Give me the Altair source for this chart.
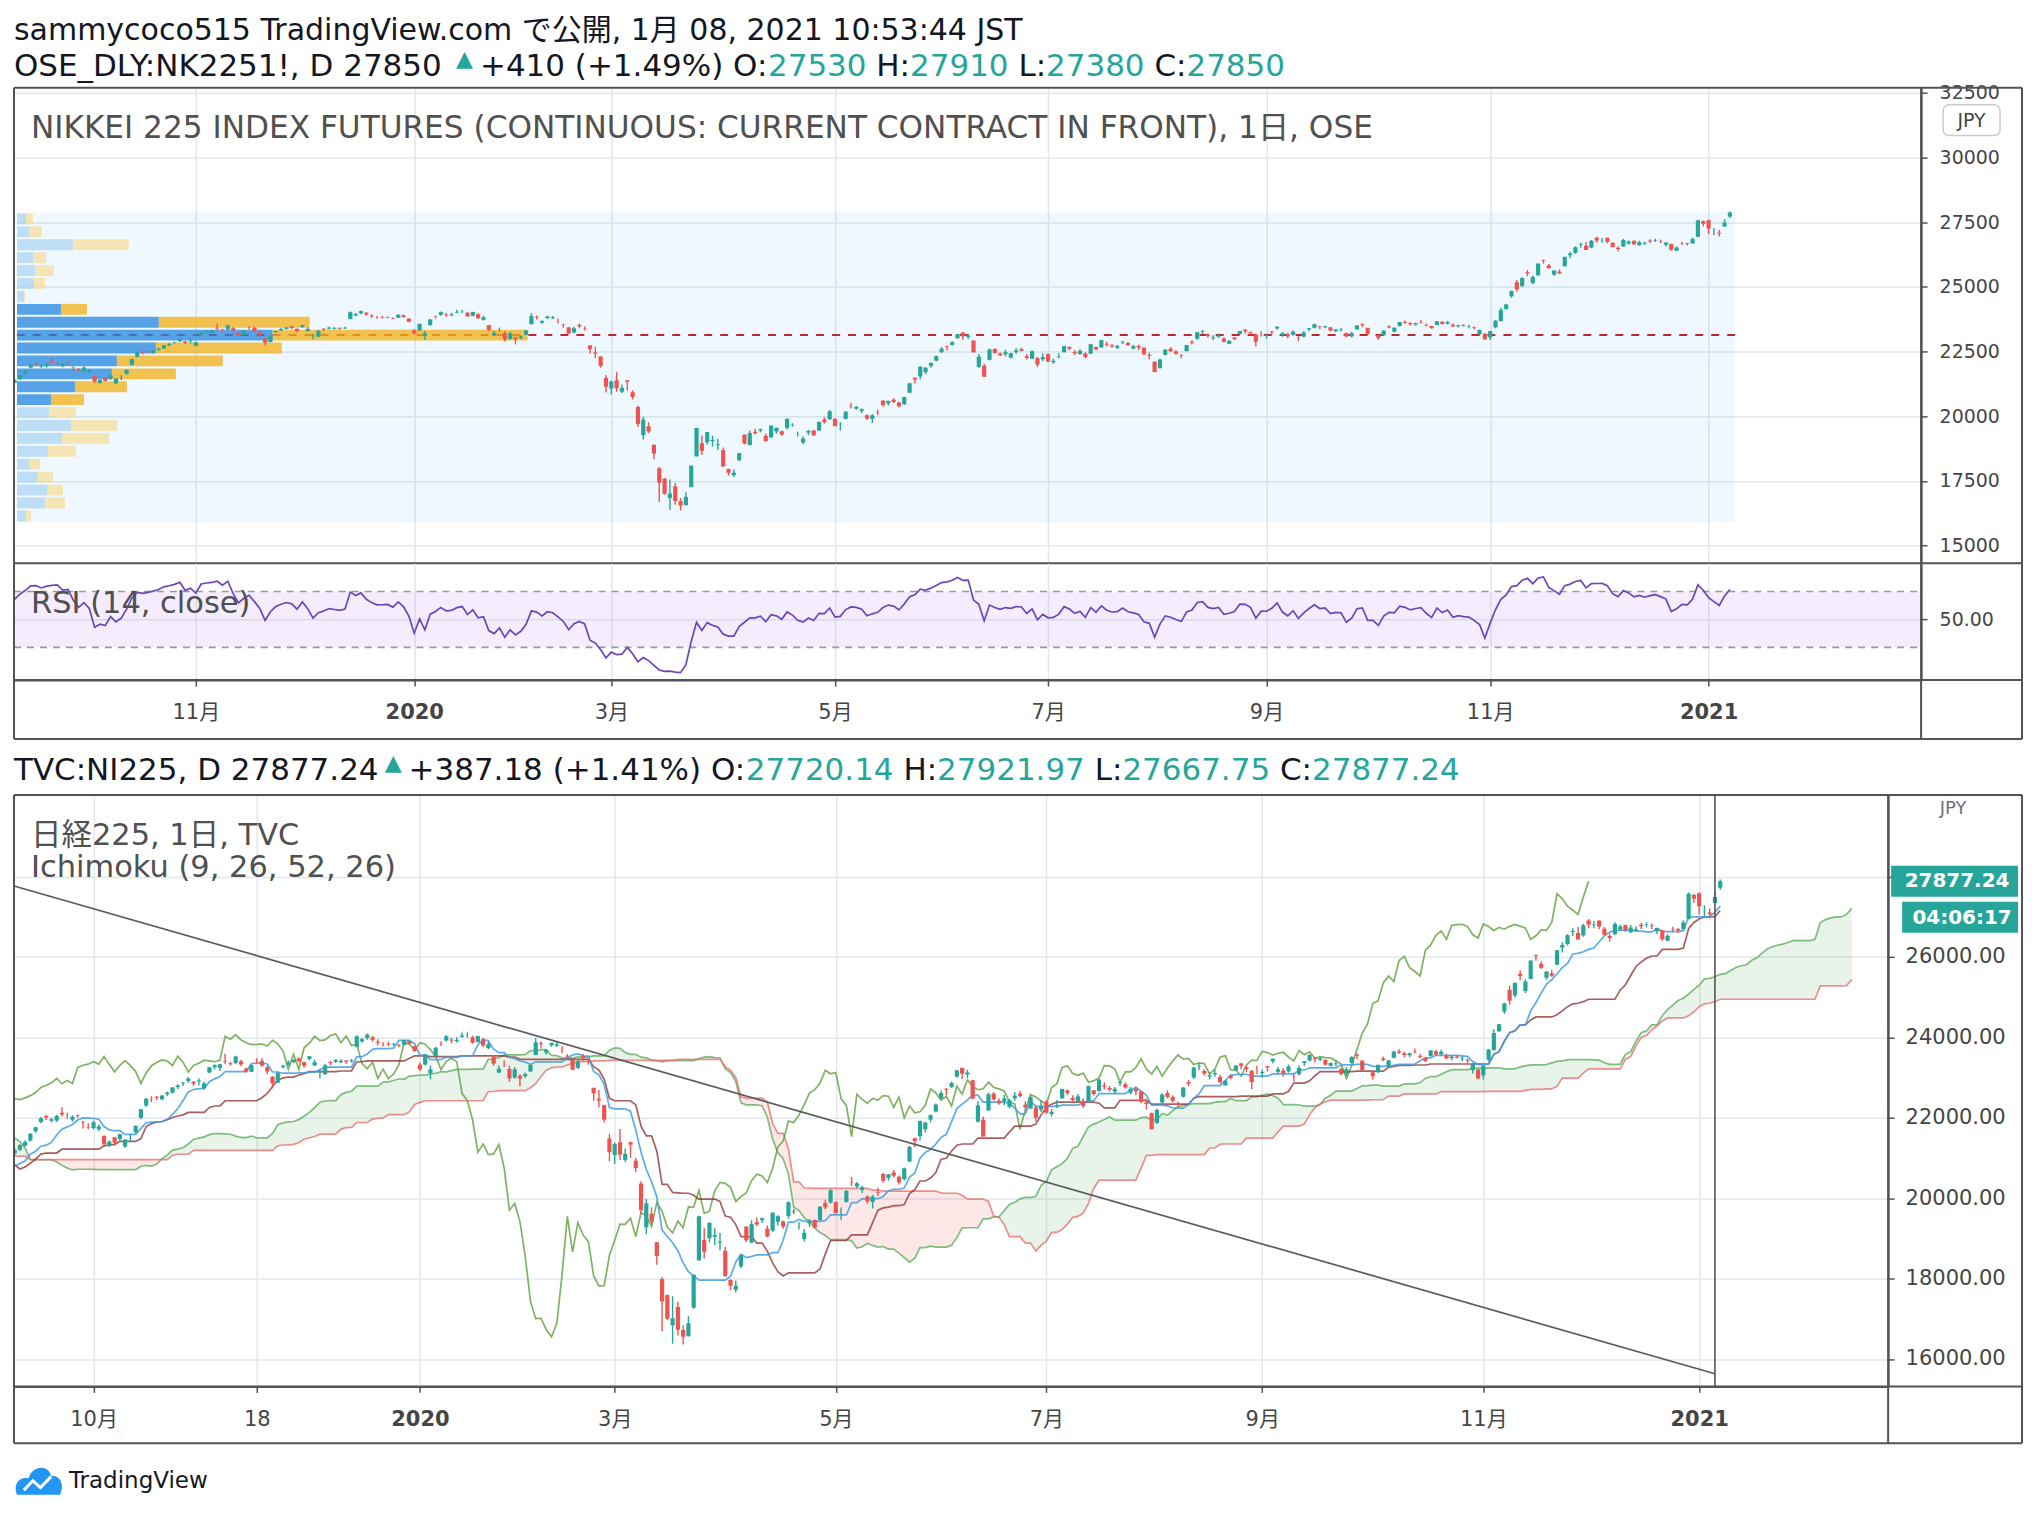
import altair as alt
import numpy as np
import pandas as pd

# ================= texts =================
PUBLISHED = "sammycoco515 TradingView.com で公開, 1月 08, 2021 10:53:44 JST"
TOP_SYMBOL = "OSE_DLY:NK2251!, D 27850"
TOP_CHANGE = "+410 (+1.49%) O:"
TOP_OHLC = ["27530", "27910", "27380", "27850"]
BOT_SYMBOL = "TVC:NI225, D 27877.24"
BOT_CHANGE = "+387.18 (+1.41%) O:"
BOT_OHLC = ["27720.14", "27921.97", "27667.75", "27877.24"]
TOP_TITLE = "NIKKEI 225 INDEX FUTURES (CONTINUOUS: CURRENT CONTRACT IN FRONT), 1日, OSE"
RSI_TITLE = "RSI (14, close)"
BOT_TITLE = "日経225, 1日, TVC"
ICHI_TITLE = "Ichimoku (9, 26, 52, 26)"
LAST_PRICE = 27877.24
LAST_PRICE_TEXT = "27877.24"
TIMER_TEXT = "04:06:17"

# ================= daily bars (bar index 0 = 2019-09-11) =================
FIRST_INDEX = -80   # 2019-05-20
PRE_OPEN = [
    21350, 21200, 21330, 21250, 21100, 21150, 21200, 21100, 20950, 20870,
    20580, 20330, 20580, 20770, 20800, 21010, 21150, 21180, 20990, 21000, 21100, 21040, 21200, 21470, 21320, 21250, 21280, 21120, 21080, 21300,
    21720, 21760, 21700, 21650, 21700, 21640, 21540, 21510, 21470, 21660, 21620, 21460, 21370, 21180, 21410, 21400, 21640, 21700, 21710, 21600, 21650, 21740,
    21400, 21180, 20950, 20240, 20520, 20490, 20700, 20450, 20480, 20500, 20190, 20500, 20580, 20660, 20600, 20680, 20360, 20450, 20390, 20550, 20620,
    20650, 20630, 20570, 20720, 21100, 21200, 21300,
]
PRE_HIGH = [
    21430, 21400, 21380, 21290, 21200, 21260, 21300, 21130, 21040, 20900,
    20600, 20520, 20800, 20870, 20900, 21180, 21260, 21200, 21100, 21150, 21170, 21060, 21340, 21500, 21350, 21320, 21290, 21150, 21360, 21340,
    21780, 21790, 21750, 21720, 21770, 21660, 21590, 21600, 21650, 21700, 21680, 21600, 21370, 21470, 21470, 21640, 21740, 21800, 21720, 21680, 21720, 21790,
    21560, 21250, 20970, 20780, 20690, 20640, 20780, 20590, 20660, 20510, 20440, 20590, 20690, 20700, 20690, 20760, 20370, 20520, 20500, 20570, 20730,
    20710, 20680, 20660, 21100, 21240, 21340, 21440,
]
PRE_LOW = [
    21170, 21160, 21180, 21080, 21030, 21090, 21150, 20960, 20860, 20560,
    20290, 20290, 20540, 20700, 20740, 20990, 21100, 21090, 20960, 20980, 21040, 20940, 21180, 21300, 21200, 21200, 21150, 21040, 21050, 21240,
    21560, 21630, 21600, 21640, 21660, 21510, 21520, 21490, 21460, 21620, 21520, 21420, 21040, 21140, 21370, 21390, 21610, 21680, 21560, 21570, 21600, 21480,
    21350, 21010, 20680, 20110, 20400, 20430, 20590, 20400, 20460, 20180, 20180, 20480, 20540, 20560, 20550, 20610, 20170, 20340, 20380, 20400, 20600,
    20580, 20590, 20560, 20700, 21070, 21170, 21280,
]
PRE_CLOSE = [
    21301, 21272, 21283, 21151, 21117, 21182, 21260, 21003, 20942, 20601,
    20410, 20408, 20776, 20774, 20884, 21134, 21204, 21129, 21032, 21116, 21124, 20972, 21333, 21462, 21258, 21285, 21193, 21086, 21338, 21275,
    21729, 21754, 21638, 21702, 21746, 21534, 21565, 21533, 21643, 21685, 21535, 21469, 21046, 21466, 21416, 21620, 21709, 21756, 21658, 21616, 21709, 21521,
    21540, 21087, 20720, 20585, 20516, 20593, 20684, 20455, 20655, 20405, 20418, 20563, 20677, 20618, 20628, 20710, 20261, 20456, 20479, 20460, 20704,
    20620, 20625, 20649, 21085, 21199, 21318, 21392,
]

OPEN = [
    21430, 21660, 21890, 22040, 21920, 21930, 22120, 22100, 21950, 22060, 21890, 21770,
    21740, 21710, 21550, 21300, 21510, 21470, 21280, 21550, 21640, 21990, 22300, 22460, 22520, 22460, 22580, 22620, 22760, 22850, 22910, 22890, 22900,
    22730, 23120, 23260, 23240, 23410, 23350, 23360, 23400, 23220, 23140, 23420, 23410, 23250, 23020, 22870, 23260, 23320, 23380, 23470, 23380,
    23460, 23300, 23120, 23080, 23380, 23390, 23380, 23420, 23400, 23760, 23900, 23980, 24000, 23890, 23820, 23840, 23810, 23800, 23810, 23900, 23780,
    23320, 23320, 23110, 23530, 23860, 23920, 23940, 23900, 24010, 24080, 24000, 23880, 23950, 23730, 23520, 23120, 23380, 23210, 23000,
    23040, 23030, 23150, 23560, 23850, 23620, 23800, 23790, 23690, 23540, 23440, 23240, 23530, 23400, 22740, 22470, 22310, 21480,
    21070, 21390, 20950, 21390, 20930, 20360, 19270, 19610, 18900, 17990, 17590, 16840, 17290, 16720, 16570, 17270, 18450, 18960, 19000, 19040, 18890,
    18690, 17960, 17720, 18300, 19290, 18890, 19400, 19450, 19240, 19190, 19410, 19420, 19550, 19650, 19280, 18980, 19370, 19450, 19450, 19880, 19890,
    19900, 19670, 19900, 20400, 20290, 20200, 20040, 19900, 20150, 20600, 20500, 20640, 20530, 20470, 20910, 21490, 21540, 21710,
    21950, 22150, 22480, 22720, 22760, 23020, 23240, 23070, 22930, 21900, 21950, 22180, 22600, 22420, 22400, 22270, 22480, 22600, 22320, 22230, 22250, 22200,
    22400, 22090, 22280, 22480, 22680, 22490, 22400, 22420, 22420, 22680, 22660, 22800, 22740, 22650, 22860, 22830, 22620, 22720, 22650, 22380, 22110,
    21870, 22380, 22610, 22510, 22350, 22520, 22880, 23000, 23270, 23160, 23020, 23080, 23010, 22800, 23040, 23180, 23350, 23250, 23160, 23140,
    23110, 23280, 23400, 23140, 23170, 23150, 23040, 23080, 23360, 23420, 23480, 23440, 23440, 23290, 23330, 23210, 23090, 23360, 23570, 23420,
    23185, 23130, 23130, 23470, 23270, 23490, 23650, 23600, 23550, 23640, 23530, 23490, 23530, 23650, 23580, 23540, 23480, 23520, 23470, 23440, 23180, 23200,
    23050, 23440, 23680, 24150, 24640, 25180, 25040, 25570, 25150, 25450, 26040, 25830, 25480, 25590, 25800, 26230, 26320, 26620, 26590,
    26530, 26900, 26800, 26900, 26700, 26520, 26560, 26680, 26790, 26610, 26650, 26800, 26790, 26780, 26630, 26660, 26400, 26680, 26690, 26690, 26940, 27540,
    27580, 27150, 27100, 27340, 27720.14,
]
HIGH = [
    21620, 21770, 22020, 22070, 22000, 22070, 22260, 22120, 22060, 22080, 21920, 21860,
    21920, 21830, 21550, 21430, 21520, 21600, 21460, 21590, 21800, 22220, 22490, 22530, 22540, 22560, 22650, 22760, 22830, 22890, 23010, 22910, 22980,
    22890, 23260, 23330, 23340, 23590, 23390, 23540, 23440, 23250, 23320, 23480, 23480, 23290, 23030, 23140, 23310, 23420, 23450, 23500, 23390,
    23530, 23440, 23190, 23340, 23410, 23460, 23460, 23430, 23460, 24050, 23990, 24090, 24030, 23950, 23880, 23890, 23860, 23830, 23940, 23930, 23780,
    23370, 23580, 23300, 23760, 23900, 24050, 23990, 24000, 24120, 24120, 24040, 24040, 23980, 23880, 23530, 23300, 23430, 23290, 23260,
    23080, 23120, 23330, 23990, 23900, 23710, 23870, 23880, 23780, 23580, 23450, 23460, 23590, 23470, 22750, 22690, 22320, 21600,
    21380, 21720, 21230, 21400, 21000, 20420, 19980, 19770, 18910, 18040, 17600, 17560, 17420, 16840, 17060, 18100, 19560, 19260, 19390, 19250, 19130,
    18790, 17980, 17950, 18580, 19300, 19450, 19520, 19520, 19320, 19640, 19570, 19440, 19920, 19730, 19400, 19230, 19480, 19470, 19800, 19960, 20240,
    19920, 19770, 20200, 20520, 20400, 20310, 20070, 20080, 20260, 20630, 20600, 20700, 20560, 20760, 21300, 21500, 21930, 21900,
    22080, 22350, 22680, 22730, 22900, 23180, 23240, 23190, 22940, 22410, 22030, 22620, 22630, 22480, 22570, 22460, 22640, 22660, 22410, 22550, 22300, 22440,
    22430, 22220, 22440, 22720, 22700, 22560, 22590, 22480, 22800, 22690, 22960, 22880, 22790, 22760, 22910, 22880, 22760, 22770, 22670, 22470, 22130,
    22220, 22600, 22680, 22550, 22400, 22760, 22940, 23260, 23340, 23200, 23130, 23200, 23060, 22940, 23060, 23300, 23360, 23290, 23190, 23290,
    23200, 23290, 23470, 23260, 23230, 23320, 23100, 23300, 23410, 23580, 23500, 23500, 23450, 23370, 23420, 23240, 23260, 23530, 23600, 23420,
    23185, 23160, 23320, 23520, 23440, 23650, 23700, 23640, 23620, 23720, 23590, 23500, 23680, 23680, 23690, 23590, 23540, 23560, 23540, 23470, 23360, 23200,
    23300, 23710, 24200, 24330, 24860, 25280, 25370, 25660, 25440, 25910, 26060, 25890, 25640, 25680, 26170, 26360, 26570, 26710, 26740,
    26820, 26940, 26890, 26900, 26740, 26570, 26860, 26800, 26800, 26790, 26760, 26840, 26860, 26830, 26720, 26670, 26560, 26750, 26710, 26910, 27600, 27570,
    27600, 27280, 27200, 27620, 27921.97,
]
LOW = [
    21400, 21620, 21860, 21940, 21880, 21890, 22030, 21970, 21900, 21990, 21730, 21720,
    21700, 21660, 21300, 21270, 21340, 21410, 21250, 21400, 21610, 21960, 22270, 22390, 22440, 22430, 22530, 22600, 22710, 22790, 22870, 22790, 22800,
    22700, 23100, 23200, 23160, 23330, 23300, 23330, 23280, 23120, 23130, 23350, 23270, 23080, 22730, 22860, 23220, 23300, 23360, 23370, 23240,
    23420, 23280, 22980, 23070, 23310, 23360, 23360, 23340, 23370, 23750, 23860, 23940, 23890, 23800, 23770, 23780, 23790, 23750, 23800, 23820, 23640,
    23160, 23300, 22950, 23500, 23780, 23890, 23850, 23870, 23990, 23990, 23840, 23870, 23760, 23700, 23290, 23110, 23260, 22890, 22970,
    22780, 22980, 23130, 23550, 23740, 23570, 23760, 23760, 23600, 23430, 23180, 23210, 23400, 23320, 22420, 22250, 21880, 20920,
    20850, 20950, 20900, 21000, 20650, 19590, 19100, 19350, 18340, 16690, 16970, 16380, 16580, 16360, 16550, 17250, 18450, 18500, 18900, 18830, 18700,
    18040, 17710, 17650, 18260, 18910, 18880, 19300, 19380, 19020, 19160, 19320, 19240, 19490, 19600, 19220, 18920, 19280, 19250, 19440, 19720, 19860,
    19620, 19450, 19890, 20300, 20250, 20120, 19860, 19740, 20050, 20380, 20430, 20510, 20340, 20440, 20900, 21270, 21430, 21630,
    21880, 22130, 22450, 22550, 22740, 23000, 22960, 22990, 22470, 21880, 21530, 22170, 22420, 22320, 22310, 22230, 22420, 22510, 22200, 22210, 21900, 22140,
    22100, 22030, 22240, 22470, 22560, 22370, 22390, 22240, 22410, 22550, 22650, 22700, 22650, 22600, 22790, 22720, 22580, 22560, 22360, 22200, 21710,
    21840, 22350, 22480, 22380, 22250, 22500, 22780, 22960, 23180, 23050, 22950, 23020, 22850, 22800, 22950, 23160, 23200, 23130, 22710, 23080,
    23000, 23150, 23350, 23080, 23020, 23120, 22900, 23050, 23290, 23400, 23370, 23400, 23290, 23270, 23280, 23050, 23050, 23350, 23450, 23140,
    23185, 22950, 23110, 23400, 23250, 23470, 23580, 23500, 23500, 23600, 23480, 23380, 23520, 23550, 23550, 23460, 23430, 23470, 23400, 23360, 23100, 22950,
    22950, 23400, 23670, 24130, 24580, 24810, 24990, 25420, 25100, 25440, 25900, 25700, 25430, 25500, 25800, 26110, 26280, 26520, 26430,
    26500, 26710, 26710, 26690, 26540, 26380, 26550, 26640, 26620, 26590, 26640, 26690, 26740, 26690, 26560, 26400, 26390, 26620, 26600, 26660, 26930, 27340,
    27050, 27000, 26950, 27340, 27667.75,
]
CLOSE = [
    21597, 21759, 21988, 22001, 21960, 22044, 22079, 22098, 22020, 22048, 21878, 21756,
    21885, 21778, 21341, 21410, 21375, 21587, 21456, 21551, 21798, 22207, 22472, 22451, 22492, 22548, 22625, 22750, 22799, 22867, 22974, 22843, 22927,
    22850, 23251, 23303, 23330, 23391, 23331, 23520, 23319, 23141, 23303, 23416, 23292, 23148, 22852, 23112, 23292, 23373, 23437, 23409, 23293,
    23529, 23379, 23135, 23300, 23354, 23430, 23410, 23391, 23424, 24023, 23952, 24066, 23934, 23864, 23816, 23821, 23830, 23782, 23924, 23837, 23656,
    23204, 23575, 23204, 23739, 23850, 24025, 23916, 23933, 24041, 24083, 23864, 24031, 23795, 23827, 23343, 23215, 23379, 22977, 23205,
    22971, 23084, 23319, 23873, 23827, 23685, 23861, 23827, 23687, 23523, 23193, 23400, 23479, 23386, 22605, 22426, 21948, 21142,
    21344, 21082, 21100, 21329, 20749, 19698, 19867, 19416, 18559, 17431, 17002, 17011, 16726, 16552, 16887, 18092, 19546, 18664, 19389, 19084, 18917,
    18065, 17819, 17820, 18576, 18950, 19353, 19345, 19498, 19043, 19639, 19550, 19291, 19897, 19669, 19281, 19138, 19429, 19262, 19783, 19771, 20194,
    19619, 19674, 20179, 20390, 20366, 20267, 19915, 20037, 20133, 20433, 20595, 20552, 20388, 20741, 21271, 21419, 21916, 21877,
    22062, 22325, 22613, 22695, 22863, 23178, 23091, 23124, 22473, 22305, 21530, 22582, 22455, 22355, 22478, 22437, 22549, 22534, 22259, 22512, 21995, 22288,
    22122, 22145, 22306, 22714, 22614, 22438, 22529, 22290, 22784, 22587, 22945, 22770, 22696, 22717, 22884, 22751, 22715, 22657, 22397, 22339, 21710,
    22195, 22573, 22514, 22418, 22329, 22750, 22843, 23249, 23289, 23096, 23051, 23110, 22880, 22920, 22985, 23296, 23290, 23208, 22882, 23139,
    23138, 23247, 23465, 23205, 23089, 23274, 23032, 23235, 23406, 23559, 23454, 23475, 23319, 23360, 23346, 23087, 23204, 23511, 23539, 23185,
    23185, 23029, 23312, 23433, 23422, 23647, 23619, 23558, 23601, 23626, 23507, 23410, 23671, 23567, 23639, 23474, 23516, 23494, 23485, 23418, 23331, 22977,
    23295, 23695, 24105, 24325, 24839, 24905, 25349, 25520, 25385, 25906, 26014, 25728, 25634, 25527, 26165, 26296, 26537, 26644, 26433,
    26787, 26800, 26809, 26751, 26547, 26467, 26817, 26756, 26652, 26732, 26687, 26757, 26806, 26763, 26714, 26436, 26524, 26668, 26656, 26854, 27568, 27444,
    27258, 27158, 27056, 27490, 27877.24,
]

# x-axis ticks (bar index of first session of the month)
TOP_TICK_IDX = [33, 74, 111, 153, 193, 234, 276, 317]
TOP_TICK_LABELS = ["11月", "2020", "3月", "5月", "7月", "9月", "11月", "2021"]
BOT_TICK_IDX = [12, 43, 74, 111, 153, 193, 234, 276, 317]
BOT_TICK_LABELS = ["10月", "18", "2020", "3月", "5月", "7月", "9月", "11月", "2021"]
TOP_PRICE_TICKS = [15000, 17500, 20000, 22500, 25000, 27500, 30000, 32500]
BOT_PRICE_TICKS = [16000, 18000, 20000, 22000, 24000, 26000, 28000]
BOT_HIDDEN_LABEL = 28000          # covered by the last-price tag
RSI_TICKS = [50]
RSI_UPPER, RSI_LOWER = 70, 30

# visible-range volume profile (24 rows, top -> bottom), thousand contracts
VP_LOW, VP_HIGH = 15900, 27880
VP_START_IDX, VP_END_IDX = -0.6, 322
VP_UP = [0.9, 1.2, 5.6, 1.6, 1.8, 1.7, 0.7, 4.4, 14.2, 25.6, 13.9, 10.0, 9.5, 5.8, 3.4, 3.2, 5.4, 4.5, 3.1, 1.2, 2.1, 3.0, 2.8, 0.9]
VP_DOWN = [0.7, 1.3, 5.6, 1.3, 1.9, 1.1, 0.1, 2.6, 15.1, 25.5, 12.6, 10.6, 6.4, 5.2, 3.3, 2.7, 4.6, 4.7, 2.8, 1.1, 1.5, 1.6, 2.0, 0.5]
VP_VALUE_AREA = [0, 0, 0, 0, 0, 0, 0, 1, 1, 1, 1, 1, 1, 1, 1, 0, 0, 0, 0, 0, 0, 0, 0, 0]
POC_PRICE = 23140

# drawn trend line and cursor (bottom chart)
TREND_IDX = [-3.1, 320]
TREND_PRICE = [27760, 15630]
CURSOR_IDX = 320

ICHI_CONV, ICHI_BASE, ICHI_SPANB, ICHI_DISP = 9, 26, 52, 26

assert len(PRE_OPEN) == len(PRE_HIGH) == len(PRE_LOW) == len(PRE_CLOSE) == -FIRST_INDEX
assert len(OPEN) == len(HIGH) == len(LOW) == len(CLOSE) == 322

# ================= styling =================
FONT = "DejaVu Sans, Noto Sans CJK JP, sans-serif"
INK = "#131722"
TEAL = "#26a69a"
UP = "#26a69a"
DOWN = "#ef5350"
FRAME = "#505357"
GRID = "#e2e8ee"
LABEL = "#454545"
PANE_TXT = "#505050"
HEAD_FS = 31
PANE_FS = 30.5
TITLE_FS = 31.2

FULL_W = 2010
HEAD_H = 79
PRICE_W, PRICE_H = 1909, 476
RSI_H = 117
TOP_AXIS_H = 59
MID_H = 115
BOT_W, BOT_H = 1876, 592
BOT_AXIS_H = 57
LOGO_H = 123

XTOP = alt.Scale(domain=[-1.14, 356.9], nice=False, zero=False)
YPRICE = alt.Scale(domain=[14320, 32705], nice=False, zero=False)
YRSI = alt.Scale(domain=[6.6, 90.2], nice=False, zero=False)
XBOT = alt.Scale(domain=[-3.11, 352.9], nice=False, zero=False)
YBOT = alt.Scale(domain=[15317, 30025], nice=False, zero=False)
VP_X = alt.Scale(domain=[-0.3, 190.6], nice=False, zero=False)

# DejaVu Sans advance widths (em) for laying out the coloured header pieces
DV = {"0": .636, "1": .636, "2": .636, "3": .636, "4": .636, "5": .636, "6": .636, "7": .636,
      "8": .636, "9": .636, ".": .318, ":": .337, ",": .318, " ": .318, "+": .838, "(": .390,
      ")": .390, "%": .950, "H": .752, "L": .557, "C": .698, "O": .787, "D": .770, "T": .611,
      "V": .684, "N": .748, "I": .295, "S": .635, "E": .632, "_": .500, "Y": .611, "K": .656,
      "!": .400}


def tw(s, size):
    return sum(DV.get(ch, 0.62) for ch in s) * size


# ================= derived tables =================
bars = pd.DataFrame({
    "i": np.arange(FIRST_INDEX, FIRST_INDEX + len(PRE_CLOSE) + len(CLOSE)),
    "o": PRE_OPEN + OPEN, "h": PRE_HIGH + HIGH, "l": PRE_LOW + LOW, "c": PRE_CLOSE + CLOSE,
})


def rsi_values(close, n=14):
    close = np.asarray(close, dtype=float)
    ch = np.diff(close, prepend=np.nan)
    up = np.where(ch > 0, ch, 0.0)
    dn = np.where(ch < 0, -ch, 0.0)
    out = np.full(len(close), np.nan)
    au, ad = up[1:n + 1].mean(), dn[1:n + 1].mean()
    out[n] = 100.0 if ad == 0 else 100 - 100 / (1 + au / ad)
    for k in range(n + 1, len(close)):
        au = (au * (n - 1) + up[k]) / n
        ad = (ad * (n - 1) + dn[k]) / n
        out[k] = 100.0 if ad == 0 else 100 - 100 / (1 + au / ad)
    return out


bars["rsi"] = rsi_values(bars["c"])

top_bars = bars[bars.i >= -2]
bot_bars = bars[bars.i >= -4]
rsi_df = bars[(bars.i >= -2)][["i", "rsi"]]


def midpoint(p):
    return (bars["h"].rolling(p).max() + bars["l"].rolling(p).min()) / 2


conv = midpoint(ICHI_CONV)
base = midpoint(ICHI_BASE)
lead_b = midpoint(ICHI_SPANB)
lead_a = (conv + base) / 2
shift = ICHI_DISP - 1


def clip_rng(df):
    return df[(df.p >= -6) & (df.p <= 352)].dropna()


conv_df = clip_rng(pd.DataFrame({"p": bars.i, "v": conv}))
base_df = clip_rng(pd.DataFrame({"p": bars.i, "v": base}))
lag_df = clip_rng(pd.DataFrame({"p": bars.i - shift, "v": bars.c}))
cloud = clip_rng(pd.DataFrame({"p": bars.i + shift, "a": lead_a, "b": lead_b}))
cloud["top"] = cloud[["a", "b"]].max(axis=1)

# volume profile rows
step = (VP_HIGH - VP_LOW) / len(VP_UP)
ROW_GAP = 40
vp_rec = []
for k, (u, d, va) in enumerate(zip(VP_UP, VP_DOWN, VP_VALUE_AREA)):
    hi = VP_HIGH - k * step - ROW_GAP
    lo = VP_HIGH - (k + 1) * step + ROW_GAP
    vp_rec.append({"lo": lo, "hi": hi, "a": 0.0, "b": u, "col": "#2187de" if va else "#aed6f2"})
    vp_rec.append({"lo": lo, "hi": hi, "a": u, "b": u + d, "col": "#f1b015" if va else "#f7de9b"})
vp_df = pd.DataFrame(vp_rec)

ONE = pd.DataFrame({"k": [0]})


# ================= helpers =================
def hrule(x1, x2, y, color=FRAME, w=2):
    return alt.Chart(ONE).mark_rule(color=color, strokeWidth=w).encode(
        x=alt.value(x1), x2=alt.value(x2), y=alt.value(y))


def vrule(x, y1, y2, color=FRAME, w=2):
    return alt.Chart(ONE).mark_rule(color=color, strokeWidth=w).encode(
        x=alt.value(x), y=alt.value(y1), y2=alt.value(y2))


def label(text, x, y, size, color, align="left", baseline="alphabetic", weight="normal"):
    return alt.Chart(ONE).mark_text(text=text, align=align, baseline=baseline, font=FONT,
                                    fontSize=size, color=color, fontWeight=weight).encode(
        x=alt.value(x), y=alt.value(y))


def label_expr(vals, labs):
    expr = "''"
    for v, lab in reversed(list(zip(vals, labs))):
        expr = f"datum.value == {v} ? '{lab}' : {expr}"
    return expr


def bold_test(vals, labs):
    return " || ".join(f"datum.value == {v}" for v, lab in zip(vals, labs) if lab.isdigit() and len(lab) == 4)


def candle_layers(df, xs, ys, xaxis, yaxis, width):
    color = alt.condition("datum.c >= datum.o", alt.value(UP), alt.value(DOWN))
    b = alt.Chart(df)
    wick = b.mark_rule(strokeWidth=1.4, clip=True).encode(
        x=alt.X("i:Q", scale=xs, axis=xaxis), y=alt.Y("l:Q", scale=ys, axis=yaxis), y2="h:Q", color=color)
    body = b.mark_rule(strokeWidth=width, clip=True).encode(
        x=alt.X("i:Q", scale=xs, axis=xaxis), y=alt.Y("o:Q", scale=ys, axis=yaxis), y2="c:Q", color=color)
    return [wick, body]


def header_rows(symbol, change, ohlc, y, y_tri):
    """Lay the coloured pieces of a symbol line one after another."""
    rows = []
    x = 0.0
    rows.append((symbol, x, y, INK, HEAD_FS))
    x += tw(symbol, HEAD_FS) + 6
    rows.append(("▲", x, y_tri, TEAL, 22))
    x += 0.77 * 22 + 7
    pieces = [(change, INK)]
    for lab, val in zip(["", "H:", "L:", "C:"], ohlc):
        if lab:
            pieces.append((" ", None))
            pieces.append((lab, INK))
        pieces.append((val, TEAL))
    for txt, col in pieces:
        if col is not None:
            rows.append((txt, x, y, col, HEAD_FS))
        x += tw(txt, HEAD_FS)
    return rows


def text_block(rows):
    df = pd.DataFrame(rows, columns=["t", "x", "y", "col", "fs"])
    return alt.Chart(df).mark_text(align="left", baseline="alphabetic", font=FONT).encode(
        x=alt.X("x:Q", scale=None, axis=None), y=alt.Y("y:Q", scale=None, axis=None),
        text="t:N", color=alt.Color("col:N", scale=None), size=alt.Size("fs:Q", scale=None))


# ================= axes =================
grid_x_top = alt.Axis(values=TOP_TICK_IDX, grid=True, gridColor=GRID, gridWidth=1.5, labels=False,
                      ticks=False, domain=False, title=None)
price_y_axis = alt.Axis(orient="right", values=TOP_PRICE_TICKS, format="d", grid=True, gridColor=GRID,
                        gridWidth=1.5, domainColor=FRAME, domainWidth=2, tickColor=FRAME, tickSize=6,
                        tickWidth=1.5, labelPadding=12, labelFont=FONT, labelFontSize=19, labelColor=LABEL,
                        labelOverlap=False, labelFlush=False, title=None)
rsi_y_axis = alt.Axis(orient="right", values=RSI_TICKS, format=".2f", grid=True, gridColor=GRID,
                      gridWidth=1.5, domainColor=FRAME, domainWidth=2, tickColor=FRAME, tickSize=6,
                      tickWidth=1.5, labelPadding=12, labelFont=FONT, labelFontSize=19, labelColor=LABEL,
                      labelOverlap=False, labelFlush=False, title=None)
rsi_x_axis = alt.Axis(values=TOP_TICK_IDX, labelExpr=label_expr(TOP_TICK_IDX, TOP_TICK_LABELS), grid=True,
                      gridColor=GRID, gridWidth=1.5, domainColor=FRAME, domainWidth=2, tickColor=FRAME,
                      tickSize=6, tickWidth=1.5, labelPadding=15, labelFont=FONT, labelFontSize=21,
                      labelColor=LABEL, labelOverlap=False, labelFlush=False,
                      labelFontWeight={"condition": {"test": bold_test(TOP_TICK_IDX, TOP_TICK_LABELS), "value": "bold"},
                                       "value": "normal"},
                      title=None)
bot_x_axis = alt.Axis(values=BOT_TICK_IDX, labelExpr=label_expr(BOT_TICK_IDX, BOT_TICK_LABELS), grid=True,
                      gridColor=GRID, gridWidth=1.5, domainColor=FRAME, domainWidth=2, tickColor=FRAME,
                      tickSize=6, tickWidth=1.5, labelPadding=16, labelFont=FONT, labelFontSize=21,
                      labelColor=LABEL, labelOverlap=False, labelFlush=False,
                      labelFontWeight={"condition": {"test": bold_test(BOT_TICK_IDX, BOT_TICK_LABELS), "value": "bold"},
                                       "value": "normal"},
                      title=None)
bot_y_axis = alt.Axis(orient="right", values=BOT_PRICE_TICKS,
                      labelExpr=f"datum.value == {BOT_HIDDEN_LABEL} ? '' : format(datum.value, '.2f')",
                      grid=True, gridColor=GRID, gridWidth=1.5, domainColor=FRAME, domainWidth=2,
                      tickColor=FRAME, tickSize=6, tickWidth=1.5, labelPadding=11, labelFont=FONT,
                      labelFontSize=21, labelColor=LABEL, labelOverlap=False, labelFlush=False, title=None)

# ================= header (top) =================
head_top = text_block(
    [(PUBLISHED, 0, 31, INK, 30)] + header_rows(TOP_SYMBOL, TOP_CHANGE, TOP_OHLC, 67, 57)
).properties(width=FULL_W, height=HEAD_H)

# ================= price pane =================
bg_df = pd.DataFrame({"x": [VP_START_IDX], "x2": [VP_END_IDX], "y": [VP_LOW], "y2": [VP_HIGH]})
bg_rect = alt.Chart(bg_df).mark_rect(color="#2196f3", opacity=0.07).encode(
    x=alt.X("x:Q", scale=XTOP, axis=grid_x_top), x2="x2:Q",
    y=alt.Y("y:Q", scale=YPRICE, axis=price_y_axis), y2="y2:Q")
poc_df = pd.DataFrame({"x": [VP_START_IDX], "x2": [VP_END_IDX], "y": [POC_PRICE]})
poc_rule = alt.Chart(poc_df).mark_rule(color="#c0262d", strokeDash=[8, 8], strokeWidth=2).encode(
    x=alt.X("x:Q", scale=XTOP, axis=grid_x_top), x2="x2:Q",
    y=alt.Y("y:Q", scale=YPRICE, axis=price_y_axis))
vp_chart = alt.Chart(vp_df).mark_rect(opacity=0.75).encode(
    x=alt.X("a:Q", scale=VP_X, axis=None), x2="b:Q",
    y=alt.Y("lo:Q", scale=YPRICE, axis=price_y_axis), y2="hi:Q",
    color=alt.Color("col:N", scale=None))

jpy_box = alt.Chart(ONE).mark_rect(fill="white", stroke="#c9cbd0", strokeWidth=1.5, cornerRadius=6).encode(
    x=alt.value(1931), x2=alt.value(1988), y=alt.value(17), y2=alt.value(48))

price_front = alt.layer(
    *candle_layers(top_bars, XTOP, YPRICE, None, price_y_axis, 4.2),
    label(TOP_TITLE, 17, 50, TITLE_FS, PANE_TXT),
    jpy_box,
    label("JPY", 1959.5, 33, 19, LABEL, align="center", baseline="middle"),
    hrule(0, FULL_W, 0), hrule(0, FULL_W, PRICE_H),
    vrule(0, 0, PRICE_H), vrule(FULL_W, 0, PRICE_H), vrule(PRICE_W, 0, PRICE_H),
)
price = alt.layer(alt.layer(bg_rect, poc_rule), vp_chart, price_front).resolve_scale(
    x="independent").properties(width=PRICE_W, height=PRICE_H)

# ================= RSI pane =================
rsi_band = alt.Chart(ONE).mark_rect(color="#9c50f0", opacity=0.1).encode(
    x=alt.value(0), x2=alt.value(PRICE_W),
    y=alt.Y(datum=RSI_UPPER, scale=YRSI, axis=rsi_y_axis), y2=alt.Y2(datum=RSI_LOWER))
rsi_hi = alt.Chart(ONE).mark_rule(color="#9a9a9a", strokeDash=[7, 6], strokeWidth=1.6).encode(
    x=alt.value(0), x2=alt.value(PRICE_W), y=alt.Y(datum=RSI_UPPER, scale=YRSI, axis=rsi_y_axis))
rsi_lo = alt.Chart(ONE).mark_rule(color="#9a9a9a", strokeDash=[7, 6], strokeWidth=1.6).encode(
    x=alt.value(0), x2=alt.value(PRICE_W), y=alt.Y(datum=RSI_LOWER, scale=YRSI, axis=rsi_y_axis))
rsi_line = alt.Chart(rsi_df).mark_line(color="#6a47b8", strokeWidth=1.7, clip=True).encode(
    x=alt.X("i:Q", scale=XTOP, axis=rsi_x_axis), y=alt.Y("rsi:Q", scale=YRSI, axis=rsi_y_axis))
rsi_pane = alt.layer(
    rsi_band, rsi_hi, rsi_lo, rsi_line,
    label(RSI_TITLE, 17, 50, PANE_FS, PANE_TXT),
    hrule(0, FULL_W, RSI_H), hrule(0, FULL_W, RSI_H + TOP_AXIS_H),
    vrule(0, 0, RSI_H + TOP_AXIS_H), vrule(FULL_W, 0, RSI_H + TOP_AXIS_H),
    vrule(PRICE_W, 0, RSI_H + TOP_AXIS_H),
).properties(width=PRICE_W, height=RSI_H)

# ================= header (bottom chart) =================
head_mid = text_block(
    header_rows(BOT_SYMBOL, BOT_CHANGE, BOT_OHLC, 100, 90)
).properties(width=FULL_W, height=MID_H)


# ================= Ichimoku pane =================
def bx(field):
    return alt.X(f"{field}:Q", scale=XBOT, axis=bot_x_axis)


def by(field):
    return alt.Y(f"{field}:Q", scale=YBOT, axis=bot_y_axis)


cloud_green = alt.Chart(cloud).mark_area(color="#43a047", opacity=0.12, clip=True).encode(
    x=bx("p"), y=by("top"), y2="b:Q")
cloud_red = alt.Chart(cloud).mark_area(color="#f44336", opacity=0.12, clip=True).encode(
    x=bx("p"), y=by("top"), y2="a:Q")
lead_a_line = alt.Chart(cloud).mark_line(color="#5fae5f", strokeWidth=1.7, opacity=0.8, clip=True).encode(
    x=bx("p"), y=by("a"))
lead_b_line = alt.Chart(cloud).mark_line(color="#ea6a6a", strokeWidth=1.7, opacity=0.75, clip=True).encode(
    x=bx("p"), y=by("b"))
lag_line = alt.Chart(lag_df).mark_line(color="#5f9f3c", strokeWidth=1.7, opacity=0.8, clip=True).encode(
    x=bx("p"), y=by("v"))
base_line = alt.Chart(base_df).mark_line(color="#8e2a2a", strokeWidth=1.7, opacity=0.75, clip=True).encode(
    x=bx("p"), y=by("v"))
conv_line = alt.Chart(conv_df).mark_line(color="#3f9ce8", strokeWidth=1.7, opacity=0.85, clip=True).encode(
    x=bx("p"), y=by("v"))
trend_df = pd.DataFrame({"p": TREND_IDX, "v": TREND_PRICE})
trend = alt.Chart(trend_df).mark_line(color="#5a5a5a", strokeWidth=1.7, clip=True).encode(
    x=bx("p"), y=by("v"))
cursor = alt.Chart(ONE).mark_rule(color="#555555", strokeWidth=1.6).encode(
    x=alt.X(datum=CURSOR_IDX, scale=XBOT, axis=bot_x_axis), y=alt.value(0), y2=alt.value(BOT_H))

price_tag = alt.Chart(ONE).mark_tick(orient="horizontal", size=127, thickness=31, color=TEAL, opacity=1).encode(
    x=alt.value(1942.5), y=alt.Y(datum=LAST_PRICE, scale=YBOT, axis=bot_y_axis))
price_tag_txt = alt.Chart(ONE).mark_text(text=LAST_PRICE_TEXT, font=FONT, fontSize=20, color="white",
                                         align="center", baseline="middle", fontWeight="bold").encode(
    x=alt.value(1945), y=alt.Y(datum=LAST_PRICE, scale=YBOT, axis=bot_y_axis))
timer_tag = alt.Chart(ONE).mark_tick(orient="horizontal", size=116, thickness=31, color=TEAL, opacity=1).encode(
    x=alt.value(1948), y=alt.value(122.5))
timer_txt = label(TIMER_TEXT, 1950, 123, 20, "white", align="center", baseline="middle", weight="bold")

bottom = alt.layer(
    cloud_green, cloud_red, lead_a_line, lead_b_line, lag_line, base_line, conv_line,
    *candle_layers(bot_bars, XBOT, YBOT, bot_x_axis, bot_y_axis, 4.2),
    trend, cursor,
    label(BOT_TITLE, 17, 50, PANE_FS, PANE_TXT),
    label(ICHI_TITLE, 17, 82, PANE_FS, PANE_TXT),
    label("JPY", 1941, 14, 18, "#6f7278", align="center", baseline="middle"),
    price_tag, price_tag_txt, timer_tag, timer_txt,
    hrule(0, FULL_W, 0), hrule(0, FULL_W, BOT_H), hrule(0, FULL_W, BOT_H + BOT_AXIS_H),
    vrule(0, 0, BOT_H + BOT_AXIS_H), vrule(FULL_W, 0, BOT_H + BOT_AXIS_H),
    vrule(BOT_W, 0, BOT_H + BOT_AXIS_H),
).properties(width=BOT_W, height=BOT_H)

# ================= logo =================
CLOUD_PATH = ("M-0.9,0.55 C-1.08,0.1 -0.78,-0.22 -0.42,-0.12 C-0.3,-0.62 0.36,-0.72 0.5,-0.22 "
              "C0.86,-0.26 1.06,0.16 0.86,0.55 Z")
ZIG_PATH = "M-0.62,0.36 L-0.25,-0.02 L0.06,0.26 L0.5,-0.2"
logo = alt.layer(
    alt.Chart(ONE).mark_point(shape=CLOUD_PATH, filled=True, color="#2196f3", size=2400, opacity=1).encode(
        x=alt.value(25), y=alt.value(95)),
    alt.Chart(ONE).mark_point(shape=ZIG_PATH, filled=False, color="white", strokeWidth=3, size=2400,
                              opacity=1).encode(x=alt.value(25), y=alt.value(95)),
    label("TradingView", 55, 102, 23, INK),
).properties(width=FULL_W, height=LOGO_H)

chart = alt.vconcat(head_top, price, rsi_pane, head_mid, bottom, logo, spacing=0, bounds="flush").properties(
    padding={"left": 5, "top": 0, "right": 5, "bottom": 5}
).configure_view(strokeWidth=0)

chart.save("out.html", embed_options={"renderer": "svg", "actions": False})
